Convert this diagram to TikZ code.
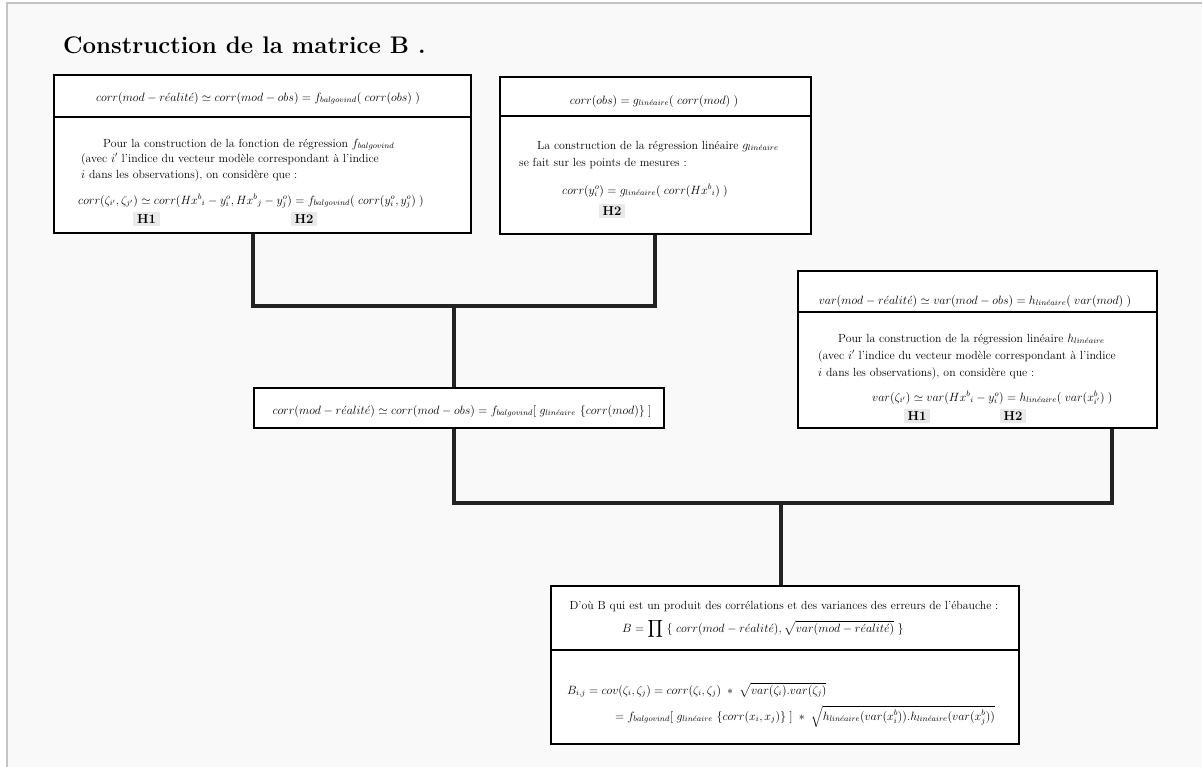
\documentclass[tikz,border=0pt]{standalone}
\usepackage{amsmath}
\definecolor{framegray}{HTML}{C4C4C4}
\definecolor{bggray}{HTML}{F9F9F9}
\definecolor{hlgray}{HTML}{EAEAEA}
\definecolor{conncol}{HTML}{222222}
\tikzset{
  boxnode/.style={draw=black, line width=1.8pt, fill=white, anchor=north west, inner sep=0pt},
  divline/.style={line width=1.8pt, black},
  conn/.style={line width=3.5pt, conncol},
  txt/.style={inner sep=0pt, font=\fontsize{11.8}{14}\selectfont},
  txtw/.style={txt, anchor=base west},
  txtc/.style={txt, anchor=base},
  hlab/.style={fill=hlgray, inner xsep=4pt, inner ysep=3pt, font=\bfseries\fontsize{13}{15}\selectfont},
}
\begin{document}
\begin{tikzpicture}[x=1pt,y=-1pt]
\useasboundingbox (0,0) rectangle (1202,766);
% frame
\fill[white] (0,0) rectangle (1202,766);
\draw[framegray, line width=1.5pt, fill=bggray] (7,3) rectangle (1215,780);
% title
\node[anchor=base west, inner sep=0pt, font=\bfseries\fontsize{24}{28}\selectfont] (title) at (63,53) {Construction de la matrice B\ .};

% Box A
\node[boxnode, minimum width=417, minimum height=158] (A) at (53,74) {};
\draw[divline] (A.west |- 0,117) -- (A.east |- 0,117);
\node[txtc] (Ah) at (258,101) {$corr(mod-r\acute{e}alit\acute{e})\simeq corr(mod-obs)=f_{balgovind}(\;corr(obs)\;)$};
\node[txtw] (A1) at (103,147) {Pour la construction de la fonction de r\'egression $f_{balgovind}$};
\node[txtw] (A2) at (81,162) {(avec $i'$ l'indice du vecteur mod\`ele correspondant \`a l'indice};
\node[txtw] (A3) at (81,178) {$i$ dans les observations), on consid\`ere que :};
\node[txtw] (A4) at (78,204) {$corr(\zeta_{i'},\zeta_{j'})\simeq corr(Hx^{b}{}_{i}-y^{o}_{i},Hx^{b}{}_{j}-y^{o}_{j})=f_{balgovind}(\;corr(y^{o}_{i},y^{o}_{j})\;)$};
\node[hlab] (AH1) at (146.5,219) {H1};
\node[hlab] (AH2) at (304,219) {H2};

% Box B
\node[boxnode, minimum width=311, minimum height=157] (B) at (499,76) {};
\draw[divline] (B.west |- 0,116) -- (B.east |- 0,116);
\node[txtc] (Bh) at (654,104) {$corr(obs)=g_{lin\acute{e}aire}(\;corr(mod)\;)$};
\node[txtw] (B1) at (537,149) {La construction de la r\'egression lin\'eaire $g_{lin\acute{e}aire}$};
\node[txtw] (B2) at (519,166) {se fait sur les points de mesures :};
\node[txtw] (B3) at (562,194) {$corr(y^{o}_{i})=g_{lin\acute{e}aire}(\;corr(Hx^{b}{}_{i})\;)$};
\node[hlab] (BH2) at (612,211) {H2};

% Box C
\node[boxnode, minimum width=359, minimum height=157] (C) at (797,270) {};
\draw[divline] (C.west |- 0,312) -- (C.east |- 0,312);
\node[txtc] (Ch) at (975,304) {$var(mod-r\acute{e}alit\acute{e})\simeq var(mod-obs)=h_{lin\acute{e}aire}(\;var(mod)\;)$};
\node[txtw] (C1) at (838,342) {Pour la construction de la r\'egression lin\'eaire $h_{lin\acute{e}aire}$};
\node[txtw] (C2) at (818,359) {(avec $i'$ l'indice du vecteur mod\`ele correspondant \`a l'indice};
\node[txtw] (C3) at (818,376) {$i$ dans les observations), on consid\`ere que :};
\node[txtw] (C4) at (872,401) {$var(\zeta_{i'})\simeq var(Hx^{b}{}_{i}-y^{o}_{i})=h_{lin\acute{e}aire}(\;var(x^{b}_{i'})\;)$};
\node[hlab] (CH1) at (917,416) {H1};
\node[hlab] (CH2) at (1013,416) {H2};

% Box D
\node[boxnode, minimum width=410, minimum height=40] (D) at (253,387) {};
\node[txtc] (Dt) at (462,414) {$corr(mod-r\acute{e}alit\acute{e})\simeq corr(mod-obs)=f_{balgovind}[\;g_{lin\acute{e}aire}\ \{corr(mod)\}\;]$};

% Box E
\node[boxnode, minimum width=468, minimum height=158] (E) at (550,585) {};
\draw[divline] (E.west |- 0,650) -- (E.east |- 0,650);
\node[txtc] (E1) at (784,609) {D'o\`u B qui est un produit des corr\'elations et des variances des erreurs de l'\'ebauche :};
\node[txtw] (E2) at (622,632) {$B=\displaystyle\prod\ \{\;corr(mod-r\acute{e}alit\acute{e}),\sqrt{var(mod-r\acute{e}alit\acute{e})}\;\}$};
\node[txtw] (E3) at (567,694) {$B_{i,j}=cov(\zeta_{i},\zeta_{j})=corr(\zeta_{i},\zeta_{j})\;\ast\;\sqrt{var(\zeta_{i}).var(\zeta_{j})}$};
\node[txtw] (E4) at (615,720) {$=f_{balgovind}[\;g_{lin\acute{e}aire}\ \{corr(x_{i},x_{j})\}\;]\;\ast\;\sqrt{h_{lin\acute{e}aire}(var(x^{b}_{i})).h_{lin\acute{e}aire}(var(x^{b}_{j}))}$};

% connectors
\coordinate (j1) at (454,306);
\coordinate (j2) at (781,503);
\draw[conn] (A.south -| 253,0) |- (j1) -| (B.south -| 655,0);
\draw[conn] (j1) -- (D.north -| j1);
\draw[conn] (D.south -| j1) |- (j2) -| (C.south -| 1112,0);
\draw[conn] (j2) -- (E.north -| j2);
\end{tikzpicture}
\end{document}
